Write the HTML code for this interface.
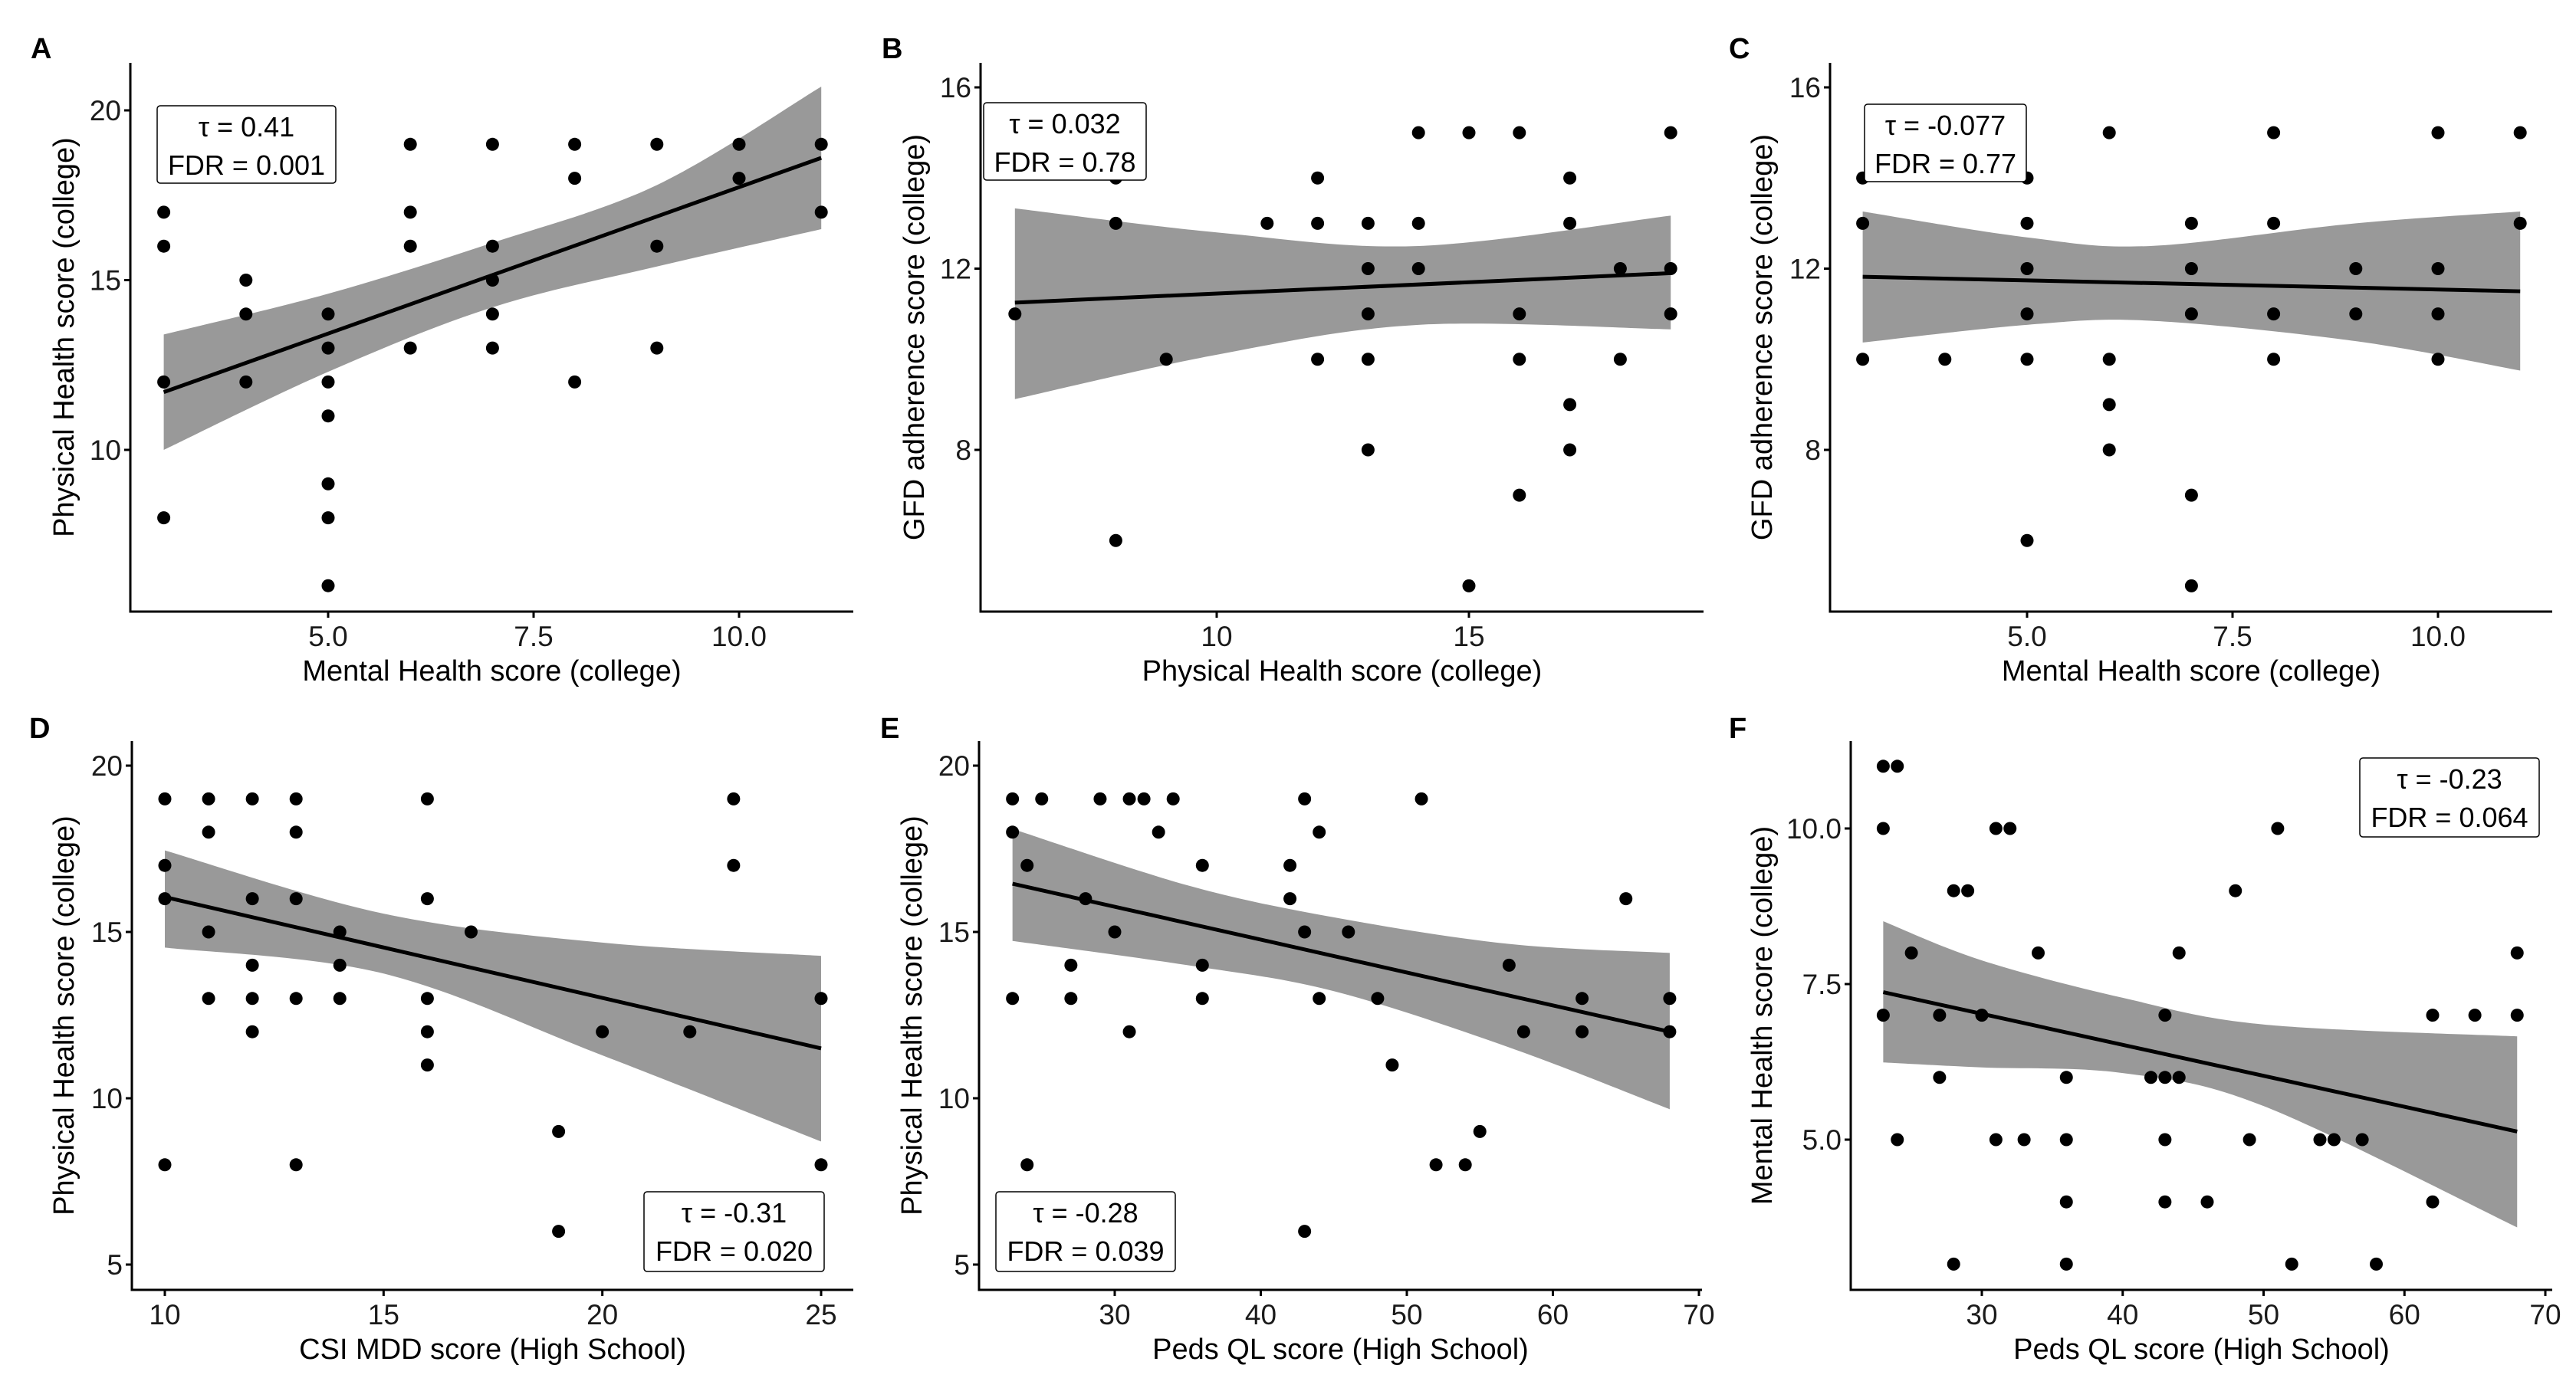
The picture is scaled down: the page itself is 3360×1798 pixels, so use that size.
<!DOCTYPE html>
<html><head><meta charset="utf-8">
<style>
html,body{margin:0;padding:0;background:#fff;}
svg{display:block;font-family:"Liberation Sans",Arial,sans-serif;}
</style></head>
<body>
<svg id="fig" width="3360" height="1798" viewBox="0 0 3360 1798" xmlns="http://www.w3.org/2000/svg"></svg>
<script>
// ---- Panel A data ----
const aX = [3,3,3,3,4,4,4,5,5,5,5,5,5,5,6,6,6,6,7,7,7,7,7,8,8,8,9,9,9,10,10,11,11];
const aY = [17,16,12,8,15,14,12,14,13,12,11,9,8,6,19,17,16,13,19,16,15,14,13,19,18,12,19,16,13,19,18,19,17];
const aCiX = [3,5,7,9,11];
const aCiLo = [10.0,12.3,14.2,15.4,16.5];
const aCiHi = [13.4,14.6,16.1,17.8,20.7];
const aFitX = [3,11];
const aFitY = [11.7,18.6];
const aTicksX = [5.0,7.5,10.0];
const aTicksY = [10,15,20];
// ---- Panel B data ----
const bX = [6,8,8,8,9,11,12,12,12,13,13,13,13,13,14,14,14,15,15,16,16,16,16,17,17,17,17,18,18,19,19,19];
const bY = [11,13,14,6,10,13,14,13,10,13,12,11,10,8,15,13,12,15,5,15,11,10,7,14,13,9,8,12,10,15,12,11];
const bCiX = [6,10,14,19];
const bCiLo = [9.12,10.1,10.76,10.66];
const bCiHi = [13.33,12.8,12.5,13.17];
const bFitX = [6,19];
const bFitY = [11.25,11.9];
const bTicksX = [10,15];
const bTicksY = [8,12,16];
// ---- Panel C data ----
const cX = [3,3,3,4,5,5,5,5,5,5,6,6,6,6,7,7,7,7,7,8,8,8,8,9,9,10,10,10,10,11,11];
const cY = [14,13,10,10,14,13,12,11,10,6,15,10,9,8,13,12,11,7,5,15,13,11,10,12,11,15,12,11,10,15,13];
const cCiX = [3,5,6.5,9,11];
const cCiLo = [10.37,10.76,10.85,10.4,9.75];
const cCiHi = [13.26,12.69,12.5,13.0,13.26];
const cFitX = [3,11];
const cFitY = [11.82,11.5];
const cTicksX = [5.0,7.5,10.0];
const cTicksY = [8,12,16];
// ---- Panel D data ----
const dX = [10,10,10,10,11,11,11,11,12,12,12,12,12,13,13,13,13,13,14,14,14,16,16,16,16,16,17,19,19,20,22,23,23,25,25];
const dY = [19,17,16,8,19,18,15,13,19,16,14,13,12,19,18,16,13,8,15,14,13,19,16,13,12,11,15,9,6,12,12,19,17,13,8];
const dCiX = [10,15,20,25];
const dCiLo = [14.53,13.75,11.29,8.7];
const dCiHi = [17.45,15.55,14.68,14.28];
const dFitX = [10,25];
const dFitY = [16.05,11.5];
const dTicksX = [10,15,20,25];
const dTicksY = [5,10,15,20];
// ---- Panel E data ----
const eX = [23,23,23,24,24,25,27,27,28,29,30,31,31,32,33,34,36,36,36,42,42,43,43,43,44,44,46,48,49,51,52,54,55,57,58,62,62,65,68,68];
const eY = [19,18,13,17,8,19,14,13,16,19,15,19,12,19,18,19,17,14,13,17,16,19,15,6,18,13,15,13,11,19,8,8,9,14,12,13,12,16,13,12];
const eCiX = [23,35,45,57,68];
const eCiLo = [14.73,14.0,13.22,11.53,9.67];
const eCiHi = [18.1,16.4,15.44,14.64,14.37];
const eFitX = [23,68];
const eFitY = [16.45,12.0];
const eTicksX = [30,40,50,60,70];
const eTicksY = [5,10,15,20];
// ---- Panel F data ----
const fX = [23,24,23,31,32,51,28,29,48,25,34,44,68,23,27,30,43,62,65,68,27,36,42,43,44,24,31,33,36,43,49,54,55,57,36,43,46,62,28,36,52,58];
const fY = [11,11,10,10,10,10,9,9,9,8,8,8,8,7,7,7,7,7,7,7,6,6,6,6,6,5,5,5,5,5,5,5,5,5,4,4,4,4,3,3,3,3];
const fCiX = [23,30,40,50,68];
const fCiLo = [6.24,6.16,6.07,5.54,3.59];
const fCiHi = [8.51,7.88,7.28,6.85,6.66];
const fFitX = [23,68];
const fFitY = [7.37,5.13];
const fTicksX = [30,40,50,60,70];
const fTicksY = [5.0,7.5,10.0];

const NS = "http://www.w3.org/2000/svg";
const svg = document.getElementById('fig');
function mk(tag, attrs, parent){
  const el = document.createElementNS(NS, tag);
  for (const k in attrs) el.setAttribute(k, attrs[k]);
  (parent||svg).appendChild(el);
  return el;
}
function lin(v1,p1,v2,p2){ return v => p1 + (v-v1)*(p2-p1)/(v2-v1); }
// smooth path through points (Catmull-Rom -> cubic Bezier)
function smooth(pts, start){
  let d = start ? 'M'+pts[0][0]+','+pts[0][1] : 'L'+pts[0][0]+','+pts[0][1];
  for (let i=0;i<pts.length-1;i++){
    const p0 = pts[i-1]||pts[i], p1 = pts[i], p2 = pts[i+1], p3 = pts[i+2]||pts[i+1];
    const c1 = [p1[0]+(p2[0]-p0[0])/6, p1[1]+(p2[1]-p0[1])/6];
    const c2 = [p2[0]-(p3[0]-p1[0])/6, p2[1]-(p3[1]-p1[1])/6];
    d += ' C'+c1[0]+','+c1[1]+' '+c2[0]+','+c2[1]+' '+p2[0]+','+p2[1];
  }
  return d;
}

const panels = [
 {id:'a',L:'A',xs:aX,ys:aY,ciX:aCiX,ciLo:aCiLo,ciHi:aCiHi,fx:aFitX,fy:aFitY,tx:aTicksX,ty:aTicksY,dec:[1,0],
  sx:lin(5,428,10,964), sy:lin(20,144,10,587), left:170,right:1113,top:82,bottom:798,
  xt:'Mental Health score (college)', yt:'Physical Health score (college)', ytx:84,
  box:[205,138,233,101], tau:'τ = 0.41', fdr:'FDR = 0.001', lx:40, ly:76},
 {id:'b',L:'B',xs:bX,ys:bY,ciX:bCiX,ciLo:bCiLo,ciHi:bCiHi,fx:bFitX,fy:bFitY,tx:bTicksX,ty:bTicksY,dec:[0,0],
  sx:lin(10,1587,15,1916), sy:lin(16,114,8,587), left:1279,right:2222,top:82,bottom:798,
  xt:'Physical Health score (college)', yt:'GFD adherence score (college)', ytx:1193,
  box:[1283,134,212,101], tau:'τ = 0.032', fdr:'FDR = 0.78', lx:1150, ly:76},
 {id:'c',L:'C',xs:cX,ys:cY,ciX:cCiX,ciLo:cCiLo,ciHi:cCiHi,fx:cFitX,fy:cFitY,tx:cTicksX,ty:cTicksY,dec:[1,0],
  sx:lin(5,2644,10,3180), sy:lin(16,114,8,587), left:2387,right:3329,top:82,bottom:798,
  xt:'Mental Health score (college)', yt:'GFD adherence score (college)', ytx:2299,
  box:[2432,136,211,101], tau:'τ = -0.077', fdr:'FDR = 0.77', lx:2255, ly:76},
 {id:'d',L:'D',xs:dX,ys:dY,ciX:dCiX,ciLo:dCiLo,ciHi:dCiHi,fx:dFitX,fy:dFitY,tx:dTicksX,ty:dTicksY,dec:[0,0],
  sx:lin(10,215,25,1071), sy:lin(20,999,5,1650), left:172,right:1113,top:967,bottom:1683,
  xt:'CSI MDD score (High School)', yt:'Physical Health score (college)', ytx:84,
  box:[840,1555,235,104], tau:'τ = -0.31', fdr:'FDR = 0.020', lx:38, ly:963},
 {id:'e',L:'E',xs:eX,ys:eY,ciX:eCiX,ciLo:eCiLo,ciHi:eCiHi,fx:eFitX,fy:eFitY,tx:eTicksX,ty:eTicksY,dec:[0,0],
  sx:lin(30,1454,70,2216), sy:lin(20,999,5,1650), left:1277,right:2220,top:967,bottom:1683,
  xt:'Peds QL score (High School)', yt:'Physical Health score (college)', ytx:1190,
  box:[1299,1555,234,104], tau:'τ = -0.28', fdr:'FDR = 0.039', lx:1148, ly:963},
 {id:'f',L:'F',xs:fX,ys:fY,ciX:fCiX,ciLo:fCiLo,ciHi:fCiHi,fx:fFitX,fy:fFitY,tx:fTicksX,ty:fTicksY,dec:[0,1],
  sx:lin(30,2585,70,3320), sy:lin(10,1081,5,1487), left:2414,right:3329,top:967,bottom:1683,
  xt:'Peds QL score (High School)', yt:'Mental Health score (college)', ytx:2299,
  box:[3078,989,234,103], tau:'τ = -0.23', fdr:'FDR = 0.064', lx:2255, ly:963}
];

panels.forEach(p => {
  const g = mk('g', {});
  
  

  const lab = mk('text', {x:p.lx, y:p.ly, 'font-size':38, 'font-weight':'bold', fill:'#000'}, g);
  lab.textContent = p.L;
  
  

  // confidence ribbon
  const hi = p.ciX.map((x,i)=>[p.sx(x), p.sy(p.ciHi[i])]);
  const lo = p.ciX.map((x,i)=>[p.sx(x), p.sy(p.ciLo[i])]).reverse();
  const rib = mk('path', {d: smooth(hi,true)+' '+smooth(lo,false)+' Z', fill:'#999999'}, g);
  
  

  // points
  for (let i=0;i<p.xs.length;i++){
    const c = mk('circle', {cx:p.sx(p.xs[i]), cy:p.sy(p.ys[i]), r:8.5, fill:'#000'}, g);
    
    
  }

  // fit line
  const fl = mk('line', {x1:p.sx(p.fx[0]), y1:p.sy(p.fy[0]), x2:p.sx(p.fx[1]), y2:p.sy(p.fy[1]), stroke:'#000', 'stroke-width':5}, g);
  
  

  // axes
  const ya = mk('line', {x1:p.left, y1:p.top, x2:p.left, y2:p.bottom+1.5, stroke:'#000', 'stroke-width':3}, g);
  
  
  const xa = mk('line', {x1:p.left-1.5, y1:p.bottom, x2:p.right, y2:p.bottom, stroke:'#000', 'stroke-width':3}, g);
  
  

  p.tx.forEach(v => {
    const x = p.sx(v);
    mk('line', {x1:x, y1:p.bottom, x2:x, y2:p.bottom+8, stroke:'#000', 'stroke-width':3}, g);
    const t = mk('text', {x:x, y:p.bottom+45, 'font-size':37, 'text-anchor':'middle', fill:'#1a1a1a'}, g);
    t.textContent = v.toFixed(p.dec[0]);
    
    
  });
  p.ty.forEach(v => {
    const y = p.sy(v);
    mk('line', {x1:p.left-8, y1:y, x2:p.left, y2:y, stroke:'#000', 'stroke-width':3}, g);
    const t = mk('text', {x:p.left-12, y:y+13, 'font-size':37, 'text-anchor':'end', fill:'#1a1a1a'}, g);
    t.textContent = v.toFixed(p.dec[1]);
    
    
  });

  const xtt = mk('text', {x:(p.left+p.right)/2, y:p.bottom+90, 'font-size':38, 'text-anchor':'middle', fill:'#000'}, g);
  xtt.textContent = p.xt;
  
  
  const cy = (p.top+p.bottom)/2;
  const ytt = mk('text', {x:p.ytx, y:cy, 'font-size':38, 'text-anchor':'middle', fill:'#000', 'dominant-baseline':'central', transform:'rotate(-90 '+p.ytx+' '+cy+')'}, g);
  ytt.textContent = p.yt;
  
  

  // annotation box
  const b = p.box;
  const bg = mk('g', {}, g);
  
  
  mk('rect', {x:b[0], y:b[1], width:b[2], height:b[3], rx:4, fill:'#fff', stroke:'#000', 'stroke-width':1.5}, bg);
  const t1 = mk('text', {x:b[0]+b[2]/2, y:b[1]+40, 'font-size':36, 'text-anchor':'middle', fill:'#000'}, bg);
  t1.textContent = p.tau;
  
  
  const t2 = mk('text', {x:b[0]+b[2]/2, y:b[1]+90, 'font-size':36, 'text-anchor':'middle', fill:'#000'}, bg);
  t2.textContent = p.fdr;
  
  
});
</script>
</body></html>
